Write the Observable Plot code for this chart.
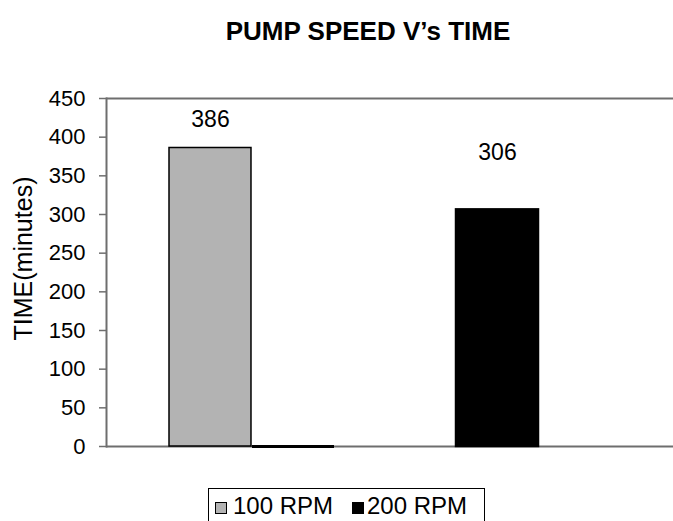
<!DOCTYPE html>
<html>
<head>
<meta charset="utf-8">
<script src="https://cdn.jsdelivr.net/npm/d3@7"></script>
<script src="https://cdn.jsdelivr.net/npm/@observablehq/plot@0.6"></script>
<style>
  html, body { margin: 0; padding: 0; background: #fff; overflow: hidden; }
  body { width: 673px; height: 521px; position: relative; font-family: "Liberation Sans", Arial, sans-serif; }
  #title { position: relative; height: 80px; }
  #title span { position: absolute; left: 368px; top: 18px; transform: translateX(-50%); white-space: nowrap;
    font: bold 26px/26px "Liberation Sans", Arial, sans-serif; color: #000; }
  #chart { position: relative; height: 400px; }
  #legend { position: absolute; left: 208px; top: 488px; width: 277px; height: 44px; border: 1px solid #000; box-sizing: border-box; }
  #legend .sw { position: absolute; width: 10px; height: 10px; border: 1px solid #000; top: 13px; }
  #legend .lb { position: absolute; top: 5px; font: 24px/24px "Liberation Sans", Arial, sans-serif; white-space: nowrap; color: #000; }
</style>
</head>
<body>
<div id="title"><span>PUMP SPEED V’s TIME</span></div>
<div id="chart"></div>
<div id="legend"></div>
<script>
// ---- data ----
const groups = ["A", "B"];
const series = ["100 RPM", "200 RPM"];
const rpm100 = [386, 0];
const rpm200 = [0, 306];
const colors = ["#b3b3b3", "#000000"];
const yTicks = [0, 50, 100, 150, 200, 250, 300, 350, 400, 450];
const yLabel = "TIME(minutes)";

const rows = groups.map((g, i) => ({group: g, v100: rpm100[i], v200: rpm200[i]}));
const lab100 = rows.filter(d => d.v100 > 0);
const lab200 = rows.filter(d => d.v200 > 0);
const zero200 = rows.filter(d => d.v200 === 0);

// band layout
const r0 = 168, r1 = 539, pad = 0.19;
const step = (r1 - r0) / (groups.length - pad);
const bw = step * (1 - pad);
const half = bw / 2;

const chart = Plot.plot({
  width: 673,
  height: 400,
  marginLeft: 106,
  marginRight: 0,
  marginTop: 18,
  marginBottom: 34,
  style: {fontFamily: "Liberation Sans, Arial, sans-serif", color: "#000", background: "transparent"},
  x: {type: "band", domain: groups, range: [r0, r1], paddingInner: pad, paddingOuter: 0, axis: null},
  y: {domain: [0, 450], axis: null},
  marks: [
    Plot.ruleY([0, 450], {stroke: "#6e6e6e", strokeWidth: 2}),
    Plot.frame({anchor: "left", stroke: "#6e6e6e", strokeWidth: 2}),
    Plot.axisY({ticks: yTicks, tickSize: 7, tickPadding: 14, fontSize: 22, stroke: "#6e6e6e", strokeWidth: 1.5, label: null, tickFormat: d => String(d)}),
    Plot.barY(rows, {x: "group", y: "v100", fill: colors[0], stroke: d => d.v100 > 0 ? "#000" : "none", strokeWidth: 1.5, insetRight: half}),
    Plot.barY(rows, {x: "group", y: "v200", fill: colors[1], stroke: colors[1], strokeWidth: 2.5, insetLeft: half}),
    Plot.tickY(zero200, {x: "group", y: "v200", stroke: colors[1], strokeWidth: 3, insetLeft: half}),
    Plot.text(lab100, {x: "group", y: "v100", text: d => String(d.v100), dx: -half / 2, dy: -28, fontSize: 23, fill: "#000"}),
    Plot.text(lab200, {x: "group", y: "v200", text: d => String(d.v200), dx: half / 2, dy: -57, fontSize: 23, fill: "#000"}),
    Plot.text([yLabel], {frameAnchor: "left", textAnchor: "middle", text: d => d, rotate: -90, dx: -83, dy: -14, fontSize: 25, fill: "#000"})
  ]
});
document.getElementById("chart").appendChild(chart);

// legend
const legend = document.getElementById("legend");
const swLeft = [6, 143];
const lbLeft = [24, 158];
series.forEach((s, i) => {
  const sw = document.createElement("div");
  sw.className = "sw";
  sw.style.left = swLeft[i] + "px";
  sw.style.background = colors[i];
  legend.appendChild(sw);
  const lb = document.createElement("div");
  lb.className = "lb";
  lb.style.left = lbLeft[i] + "px";
  lb.textContent = s;
  legend.appendChild(lb);
});
</script>
</body>
</html>
